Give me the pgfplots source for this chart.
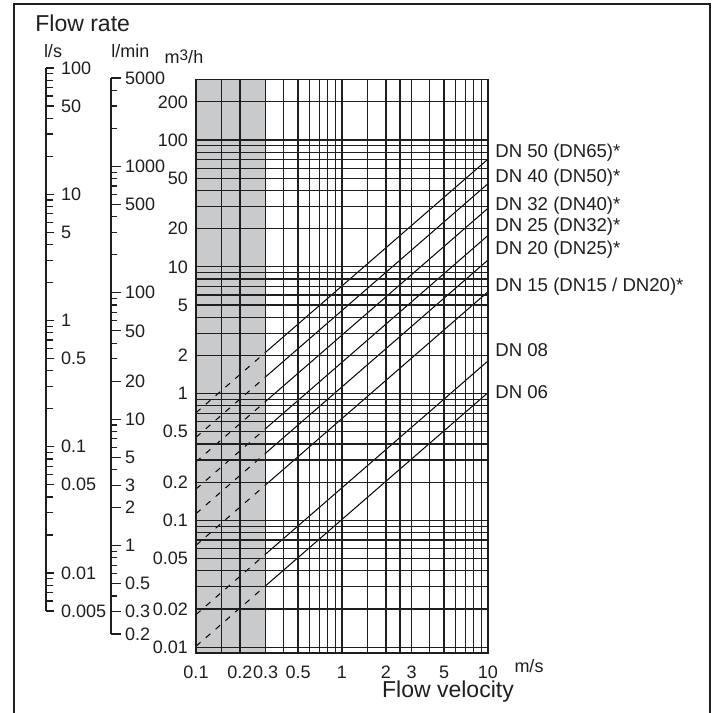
\documentclass[border=0pt]{standalone}
\usepackage{fontspec}
\setmainfont{Liberation Sans}
\usepackage{pgfplots}
\pgfplotsset{compat=1.18}
\definecolor{bandgray}{RGB}{201,202,204}
\definecolor{ink}{RGB}{30,30,30}
\newcommand{\tfont}{\fontsize{9}{10}\selectfont}
\newcommand{\dnfont}{\fontsize{9.3}{10}\selectfont}
\newcommand{\bigfont}{\fontsize{11.5}{13}\selectfont}
\begin{document}
\begin{tikzpicture}
\useasboundingbox (0,0) rectangle (356pt,-356.5pt);
\draw[ink, line width=1pt] (7pt,-357pt) -- (7pt,-2pt) -- (355pt,-2pt) -- (355pt,-357pt);

% ---------------- main axis (m3/h vs m/s) ----------------
\begin{axis}[
  scale only axis, width=146pt, height=286.75pt,
  at={(98pt,-326.5pt)}, anchor=south west,
  xmode=log, ymode=log, xmin=0.1, xmax=10, ymin=0.009, ymax=300,
  axis on top, clip=false,
  xtick={0.1,0.15,0.2,0.3,0.4,0.5,0.6,0.7,0.8,0.9,1,1.5,2,2.5,3,4,5,6,7,8,9,10},
  xticklabels={0.1,,0.2,0.3,,0.5,,,,,1,,2,,3,,5,,,,,10},
  ytick={0.01,0.02,0.03,0.04,0.05,0.06,0.07,0.08,0.09,0.1,0.2,0.3,0.4,0.5,0.6,0.7,0.8,0.9,1,2,3,4,5,6,7,8,9,10,20,30,40,50,60,70,80,90,100,200},
  yticklabels={0.01,0.02,,,0.05,,,,,0.1,0.2,,,0.5,,,,,1,2,,,5,,,,,10,20,,,50,,,,,100,200},
  minor xtick={}, minor ytick={},
  major tick length=0pt, minor tick length=0pt,
  grid=major, major grid style={ink, line width=0.6pt},
  axis line style={ink, line width=0.7pt},
  tick label style={font=\tfont, text=ink},
  yticklabel style={xshift=-0.5pt},
  xticklabel style={yshift=-3pt},
]
\fill[bandgray] (axis cs:0.1,0.009) rectangle (axis cs:0.3,300);
% DN 50
\addplot[black, line width=0.5pt, dash pattern=on 3pt off 3.5pt] coordinates {(0.1,0.70686) (0.3,2.12058)};
\addplot[black, line width=0.5pt] coordinates {(0.3,2.12058) (10,70.686)};
% DN 40
\addplot[black, line width=0.5pt, dash pattern=on 3pt off 3.5pt] coordinates {(0.1,0.45239) (0.3,1.35717)};
\addplot[black, line width=0.5pt] coordinates {(0.3,1.35717) (10,45.239)};
% DN 32
\addplot[black, line width=0.5pt, dash pattern=on 3pt off 3.5pt] coordinates {(0.1,0.28953) (0.3,0.86859)};
\addplot[black, line width=0.5pt] coordinates {(0.3,0.86859) (10,28.953)};
% DN 25
\addplot[black, line width=0.5pt, dash pattern=on 3pt off 3.5pt] coordinates {(0.1,0.176715) (0.3,0.530145)};
\addplot[black, line width=0.5pt] coordinates {(0.3,0.530145) (10,17.6715)};
% DN 20
\addplot[black, line width=0.5pt, dash pattern=on 3pt off 3.5pt] coordinates {(0.1,0.113097) (0.3,0.339292)};
\addplot[black, line width=0.5pt] coordinates {(0.3,0.339292) (10,11.3097)};
% DN 15
\addplot[black, line width=0.5pt, dash pattern=on 3pt off 3.5pt] coordinates {(0.1,0.0636173) (0.3,0.190852)};
\addplot[black, line width=0.5pt] coordinates {(0.3,0.190852) (10,6.36173)};
% DN 08
\addplot[black, line width=0.5pt, dash pattern=on 3pt off 3.5pt] coordinates {(0.1,0.0180956) (0.3,0.0542867)};
\addplot[black, line width=0.5pt] coordinates {(0.3,0.0542867) (10,1.80956)};
% DN 06
\addplot[black, line width=0.5pt, dash pattern=on 3pt off 3.5pt] coordinates {(0.1,0.0101788) (0.3,0.0305363)};
\addplot[black, line width=0.5pt] coordinates {(0.3,0.0305363) (10,1.01788)};

\begin{scope}[every node/.style={anchor=west, inner sep=0pt, xshift=3.5pt, font=\dnfont, text=ink}]
\node at (axis cs:10,78.9) {DN 50 (DN65)*};
\node at (axis cs:10,50.1) {DN 40 (DN50)*};
\node at (axis cs:10,30.2) {DN 32 (DN40)*};
\node at (axis cs:10,20.6) {DN 25 (DN32)*};
\node at (axis cs:10,13.6) {DN 20 (DN25)*};
\node at (axis cs:10,6.92) {DN 15 (DN15 / DN20)*};
\node at (axis cs:10,2.20) {DN 08};
\node at (axis cs:10,1.03) {DN 06};
\end{scope}
\end{axis}

% ---------------- l/s scale ----------------
\begin{axis}[
  scale only axis, width=10pt, height=271.5pt,
  at={(23pt,-34pt)}, anchor=north east,
  ymode=log, ymin=0.005, ymax=100, xmin=0, xmax=1,
  axis x line=none, axis y line*=right,
  axis line style={ink, line width=0.6pt, -},
  ytick={0.005,0.01,0.05,0.1,0.5,1,5,10,50,100},
  yticklabels={0.005,0.01,0.05,0.1,0.5,1,5,10,50,100},
  minor ytick={0.006,0.007,0.008,0.009,0.02,0.03,0.04,0.06,0.07,0.08,0.09,0.2,0.3,0.4,0.6,0.7,0.8,0.9,2,3,4,6,7,8,9,20,30,40,60,70,80,90},
  ytick pos=right, yticklabel pos=right,
  tick align=outside, major tick length=4pt, minor tick length=3.5pt,
  every tick/.style={ink, line width=0.6pt},
  yticklabel style={font=\tfont, text=ink, anchor=west},
]
\end{axis}

% ---------------- l/min scale ----------------
\begin{axis}[
  scale only axis, width=10pt, height=278pt,
  at={(55.5pt,-39pt)}, anchor=north east,
  ymode=log, ymin=0.2, ymax=5000, xmin=0, xmax=1,
  axis x line=none, axis y line*=right,
  axis line style={ink, line width=0.6pt, -},
  ytick={0.2,0.3,0.5,1,2,3,5,10,20,50,100,500,1000,5000},
  yticklabels={0.2,0.3,0.5,1,2,3,5,10,20,50,100,500,1000,5000},
  minor ytick={0.4,0.6,0.7,0.8,0.9,4,6,7,8,9,30,40,60,70,80,90,200,300,400,600,700,800,900,2000,3000,4000},
  ytick pos=right, yticklabel pos=right,
  tick align=outside, major tick length=5pt, minor tick length=3pt,
  every tick/.style={ink, line width=0.6pt},
  yticklabel style={font=\tfont, text=ink, anchor=west, xshift=-1.5pt},
]
\end{axis}

% ---------------- texts ----------------
\node[anchor=base west, font=\bigfont, text=ink, inner sep=0pt] at (17.5pt,-15.5pt) {Flow rate};
\node[font=\tfont, text=ink, inner sep=0pt] at (26.5pt,-25.5pt) {l/s};
\node[font=\tfont, text=ink, inner sep=0pt] at (65.25pt,-25.5pt) {l/min};
\node[font=\tfont, text=ink, inner sep=0pt] at (92pt,-28.5pt) {m\raisebox{0.35ex}{\scalebox{0.85}{3}}/h};
\node[font=\tfont, text=ink, inner sep=0pt] at (264.5pt,-333pt) {m/s};
\node[font=\bigfont, text=ink, inner sep=0pt] at (224pt,-346pt) {Flow velocity};
\end{tikzpicture}
\end{document}
